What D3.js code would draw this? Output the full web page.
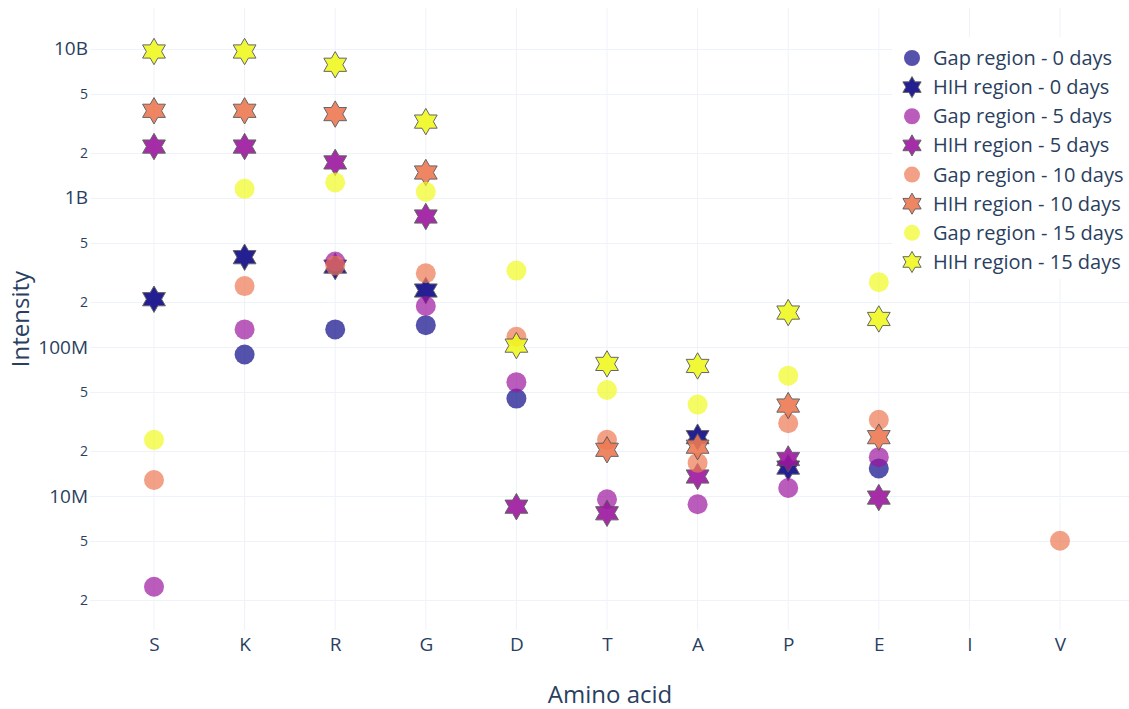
<!DOCTYPE html>
<html>
<head>
<meta charset="utf-8">
<script src="https://cdn.jsdelivr.net/npm/d3@7"></script>
<style>
  html, body { margin: 0; padding: 0; background: #fff; }
  svg { display: block; font-family: "Open Sans", verdana, arial, sans-serif; }
</style>
</head>
<body>
<svg id="chart" width="1129" height="709"></svg>
<script>
// Amino acids on the x axis
const aminoAcids = ["S", "K", "R", "G", "D", "T", "A", "P", "E", "I", "V"];

// Intensity per amino acid (null = not detected)
const gap0  = [null, 8.9e7, 1.31e8, 1.40e8, 4.5e7, null, null, null, 1.53e7, null, null];
const hih0  = [2.09e8, 4.0e8, 3.46e8, 2.39e8, null, null, 2.48e7, 1.55e7, null, null, null];
const gap5  = [2.46e6, 1.31e8, 3.74e8, 1.88e8, 5.8e7, 9.5e6, 8.8e6, 1.13e7, 1.82e7, null, null];
const hih5  = [2.21e9, 2.21e9, 1.73e9, 7.5e8, 8.47e6, 7.65e6, 1.35e7, 1.77e7, 9.75e6, null, null];
const gap10 = [1.28e7, 2.56e8, 3.52e8, 3.12e8, 1.17e8, 2.38e7, 1.67e7, 3.08e7, 3.24e7, null, 5.0e6];
const hih10 = [3.84e9, 3.84e9, 3.65e9, 1.48e9, null, 2.04e7, 2.14e7, 4.04e7, 2.48e7, null, null];
const gap15 = [2.38e7, 1.15e9, 1.27e9, 1.10e9, 3.25e8, 5.14e7, 4.1e7, 6.41e7, 2.72e8, null, null];
const hih15 = [9.6e9, 9.6e9, 7.82e9, 3.25e9, 1.02e8, 7.69e7, 7.45e7, 1.70e8, 1.54e8, null, null];

// Series names, in drawing order
const seriesNames = [
  "Gap region - 0 days", "HIH region - 0 days",
  "Gap region - 5 days", "HIH region - 5 days",
  "Gap region - 10 days", "HIH region - 10 days",
  "Gap region - 15 days", "HIH region - 15 days"
];

// Log-axis ticks
const majorTickValues = [1e7, 1e8, 1e9, 1e10];
const majorTickLabels = ["10M", "100M", "1B", "10B"];
const minorTickValues = [2e6, 5e6, 2e7, 5e7, 2e8, 5e8, 2e9, 5e9];
const minorTickLabels = ["2", "5", "2", "5", "2", "5", "2", "5"];

// ---- styling ----
const plasma = ["#0d0887", "#9c179e", "#ed7953", "#f0f921"];
const series = [
  { name: seriesNames[0], values: gap0,  color: plasma[0], shape: "circle", opacity: 0.7 },
  { name: seriesNames[1], values: hih0,  color: plasma[0], shape: "star",   opacity: 0.9 },
  { name: seriesNames[2], values: gap5,  color: plasma[1], shape: "circle", opacity: 0.7 },
  { name: seriesNames[3], values: hih5,  color: plasma[1], shape: "star",   opacity: 0.9 },
  { name: seriesNames[4], values: gap10, color: plasma[2], shape: "circle", opacity: 0.7 },
  { name: seriesNames[5], values: hih10, color: plasma[2], shape: "star",   opacity: 0.9 },
  { name: seriesNames[6], values: gap15, color: plasma[3], shape: "circle", opacity: 0.7 },
  { name: seriesNames[7], values: hih15, color: plasma[3], shape: "star",   opacity: 0.9 }
];

const textColor = "#2a3f5f";
const gridColor = "#eef2f9";
const plot = { left: 90, right: 1129, top: 8, bottom: 630 };

const svg = d3.select("#chart");

const x = d3.scalePoint().domain(aminoAcids).range([154, 1060]);
const y = d3.scaleLog().domain([1.26e6, 1.88e10]).range([plot.bottom, plot.top]);

// six-pointed star (hexagram) path for radius r
function hexagram(r) {
  const h = r * 0.66, a = r * 0.38, b = r * 0.76;
  return `M${-b},0l${-a},${-h}h${b}l${a},${-h}l${a},${h}h${b}l${-a},${h}` +
         `l${a},${h}h${-b}l${-a},${h}l${-a},${-h}h${-b}Z`;
}

// ---- grid ----
const grid = svg.append("g");
grid.selectAll("line.v").data(aminoAcids).join("line")
  .attr("x1", d => x(d)).attr("x2", d => x(d))
  .attr("y1", plot.top).attr("y2", plot.bottom)
  .attr("stroke", gridColor).attr("stroke-width", 1);
grid.selectAll("line.h").data(majorTickValues.concat(minorTickValues)).join("line")
  .attr("x1", plot.left).attr("x2", plot.right)
  .attr("y1", d => Math.round(y(d)) + 0.5).attr("y2", d => Math.round(y(d)) + 0.5)
  .attr("stroke", gridColor).attr("stroke-width", 1);

// ---- y axis ----
const yAxisMajor = d3.axisLeft(y).tickValues(majorTickValues)
  .tickFormat((d, i) => majorTickLabels[i]).tickSize(0).tickPadding(2);
const gyMajor = svg.append("g").attr("transform", `translate(${plot.left},0)`).call(yAxisMajor);
gyMajor.select(".domain").remove();
gyMajor.selectAll("text").attr("fill", textColor).style("font-size", "19px")
  .style("font-family", '"Open Sans", sans-serif');

const yAxisMinor = d3.axisLeft(y).tickValues(minorTickValues)
  .tickFormat((d, i) => minorTickLabels[i]).tickSize(0).tickPadding(2);
const gyMinor = svg.append("g").attr("transform", `translate(${plot.left},0)`).call(yAxisMinor);
gyMinor.select(".domain").remove();
gyMinor.selectAll("text").attr("fill", textColor).style("font-size", "14px")
  .style("font-family", '"Open Sans", sans-serif');

// ---- x axis ----
const xAxis = d3.axisBottom(x).tickSize(0).tickPadding(8);
const gx = svg.append("g").attr("transform", `translate(0,${plot.bottom})`).call(xAxis);
gx.select(".domain").remove();
gx.selectAll("text").attr("fill", textColor).style("font-size", "19px")
  .style("font-family", '"Open Sans", sans-serif');

// ---- axis titles ----
svg.append("text")
  .attr("x", 610).attr("y", 703)
  .attr("text-anchor", "middle").attr("fill", textColor)
  .style("font-size", "24px").text("Amino acid");
svg.append("text")
  .attr("transform", `translate(29,${(plot.top + plot.bottom) / 2}) rotate(-90)`)
  .attr("text-anchor", "middle").attr("fill", textColor)
  .style("font-size", "24px").text("Intensity");

// ---- markers ----
const marks = svg.append("g");
series.forEach(s => {
  const pts = aminoAcids.map((c, i) => ({ c, v: s.values[i] })).filter(p => p.v != null);
  const g = marks.append("g");
  if (s.shape === "circle") {
    g.selectAll("circle").data(pts).join("circle")
      .attr("cx", p => x(p.c)).attr("cy", p => y(p.v)).attr("r", 10)
      .attr("fill", s.color).attr("opacity", s.opacity);
  } else {
    g.selectAll("path").data(pts).join("path")
      .attr("transform", p => `translate(${x(p.c)},${y(p.v)})`)
      .attr("d", hexagram(10))
      .attr("fill", s.color).attr("stroke", "#555").attr("stroke-width", 1)
      .attr("opacity", s.opacity);
  }
});

// ---- legend ----
const legend = svg.append("g");
legend.append("rect")
  .attr("x", 892).attr("y", 37).attr("width", 240).attr("height", 242)
  .attr("fill", "#fff");
series.forEach((s, i) => {
  const cy = 58 + i * 29.14;
  const item = legend.append("g").attr("transform", `translate(912,${cy})`);
  if (s.shape === "circle") {
    item.append("circle").attr("r", 8).attr("fill", s.color).attr("opacity", s.opacity);
  } else {
    item.append("path").attr("d", hexagram(8))
      .attr("fill", s.color).attr("stroke", "#555").attr("stroke-width", 1)
      .attr("opacity", s.opacity);
  }
  item.append("text").attr("x", 21).attr("y", 0).attr("dy", "0.35em")
    .attr("fill", textColor).style("font-size", "20px").text(s.name);
});
</script>
</body>
</html>
